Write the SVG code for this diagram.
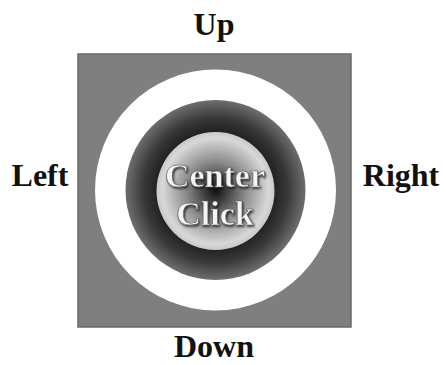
<svg xmlns="http://www.w3.org/2000/svg" width="446" height="365" viewBox="0 0 446 365">
<style>
.lbl{font-family:"Liberation Serif","Times New Roman",serif;font-weight:bold;font-size:32px;fill:#111;text-anchor:middle}
.ctr{font-family:"Liberation Serif","Times New Roman",serif;font-weight:bold;font-size:34px;fill:#f4f4f4;text-anchor:middle;stroke:#555;stroke-width:0.6}
</style>
<defs>
<radialGradient id="ring" cx="0.5" cy="0.5" r="0.5">
<stop offset="0.6" stop-color="#1a1a1a"/>
<stop offset="0.8" stop-color="#383838"/>
<stop offset="1" stop-color="#6e6e6e"/>
</radialGradient>
<radialGradient id="core" cx="0.5" cy="0.5" r="0.5">
<stop offset="0" stop-color="#111"/>
<stop offset="0.5" stop-color="#8a8a8a"/>
<stop offset="0.9" stop-color="#d8d8d8"/>
<stop offset="1" stop-color="#c8c8c8"/>
</radialGradient>
<filter id="sh" x="-10%" y="-10%" width="120%" height="130%">
<feDropShadow dx="1" dy="1.5" stdDeviation="1" flood-color="#000" flood-opacity="0.8"/>
</filter>
</defs>
<rect width="446" height="365" fill="#fff"/>
<g id="pad">
<rect x="78" y="54" width="273" height="273" fill="#7f7f7f" stroke="#6a6a6a" stroke-width="1.5"/>
<circle cx="215.5" cy="190" r="120.5" fill="#fff"/>
</g>
<g id="ring-button">
<circle cx="215.5" cy="190" r="90" fill="url(#ring)"/>
</g>
<g id="center-button">
<circle cx="215.5" cy="191" r="59" fill="url(#core)"/>
<text class="ctr" x="215" y="187" filter="url(#sh)">Center</text>
<text class="ctr" x="215" y="225" filter="url(#sh)">Click</text>
</g>
<g id="labels">
<text id="up" class="lbl" x="214" y="35">Up</text>
<text id="down" class="lbl" x="214" y="357">Down</text>
<text id="left" class="lbl" x="40" y="186">Left</text>
<text id="right" class="lbl" x="401" y="186">Right</text>
</g>
<g id="connectors"/>
</svg>
